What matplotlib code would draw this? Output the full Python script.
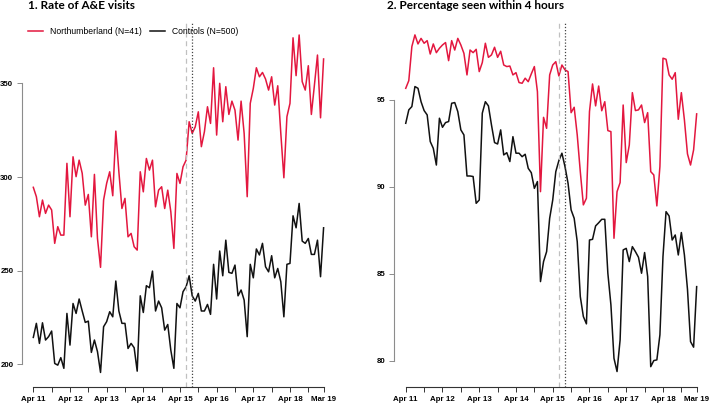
import numpy as np
import matplotlib
matplotlib.use('Agg')
import matplotlib.pyplot as plt

# monthly series, Apr 2011 .. Mar 2019 (96 months)
tick_pos = [0, 12, 24, 36, 48, 60, 72, 84, 95]
tick_labels = ['Apr 11', 'Apr 12', 'Apr 13', 'Apr 14', 'Apr 15', 'Apr 16', 'Apr 17', 'Apr 18', 'Mar 19']
minor_pos = [6, 18, 30, 42, 54, 66, 78, 90]
vline_dashed = 50
vline_dotted = 52

ae_north = [294.5, 289.5, 278.8, 287.7, 280.6, 285.0, 282.4, 264.6, 273.5, 269.0, 269.0, 307.3,
            278.8, 310.8, 300.2, 309.0, 302.0, 285.0, 290.7, 268.1, 301.4, 267.2, 251.8, 287.7,
            296.6, 302.8, 290.0, 324.5, 302.8, 283.2, 288.6, 268.1, 269.9, 262.8, 261.0, 302.8,
            292.1, 309.9, 303.7, 309.0, 284.1, 293.0, 294.8, 283.2, 293.0, 281.5, 261.9, 301.9,
            296.6, 305.5, 309.0, 329.5, 323.3, 326.8, 334.8, 316.2, 324.2, 337.5, 328.6, 358.3,
            322.4, 350.0, 329.5, 348.2, 333.4, 340.5, 335.7, 319.7, 340.5, 323.3, 289.5, 339.3,
            347.3, 358.3, 353.5, 355.8, 352.3, 346.4, 353.5, 338.4, 348.7, 323.3, 299.6, 332.2,
            339.3, 374.3, 354.1, 375.8, 350.9, 346.4, 359.4, 333.4, 349.1, 365.1, 331.6, 363.0]

ae_controls = [214.4, 221.9, 211.2, 222.2, 213.0, 214.8, 217.8, 200.5, 199.6, 203.6, 197.9, 227.2,
               210.3, 232.5, 227.2, 234.9, 228.5, 222.4, 223.1, 206.4, 213.0, 206.8, 195.7, 220.1,
               222.8, 228.1, 225.4, 244.5, 228.5, 221.9, 221.9, 208.5, 211.2, 208.9, 196.4, 236.6,
               227.7, 242.0, 240.9, 249.8, 228.5, 233.8, 230.2, 218.3, 221.3, 207.6, 197.9, 232.5,
               230.2, 238.8, 241.4, 247.3, 236.6, 233.8, 237.9, 228.5, 228.5, 232.0, 226.7, 253.4,
               234.9, 260.5, 247.3, 266.3, 249.1, 248.6, 253.0, 236.6, 239.7, 234.3, 214.8, 253.4,
               246.2, 261.6, 258.4, 264.6, 252.1, 249.4, 258.0, 246.2, 251.2, 244.1, 225.4, 253.4,
               253.9, 279.3, 272.9, 285.9, 265.8, 264.6, 267.2, 258.7, 258.7, 266.3, 246.8, 272.9]

seen4h_north = [95.67, 96.11, 98.07, 98.74, 98.22, 98.54, 98.26, 98.41, 97.64, 98.22, 97.72, 97.97,
                98.16, 98.30, 97.26, 98.41, 97.87, 98.54, 98.16, 97.68, 96.44, 97.87, 97.72, 97.91,
                96.63, 97.15, 98.26, 97.45, 97.59, 98.03, 97.45, 97.80, 97.01, 96.92, 96.95, 96.44,
                96.57, 96.00, 95.96, 96.25, 96.05, 96.50, 96.92, 95.48, 89.73, 94.00, 93.37, 96.44,
                97.01, 97.20, 96.38, 97.01, 96.73, 96.63, 94.27, 94.58, 92.99, 90.88, 88.97, 89.35,
                94.33, 95.92, 94.66, 95.80, 94.38, 94.90, 93.24, 93.18, 87.05, 89.73, 90.25, 94.71,
                91.40, 92.41, 95.42, 94.39, 94.43, 94.71, 93.70, 94.27, 90.88, 90.69, 88.91, 91.17,
                97.40, 97.34, 96.44, 96.19, 96.57, 93.89, 95.42, 93.85, 91.90, 91.26, 92.13, 94.20]

seen4h_controls = [93.66, 94.43, 94.62, 95.77, 95.67, 94.90, 94.39, 94.14, 92.61, 92.22, 91.26, 93.95,
                   93.43, 93.70, 93.76, 94.81, 94.85, 94.33, 93.28, 92.99, 90.63, 90.63, 90.60, 89.06,
                   89.25, 94.24, 94.90, 94.66, 93.56, 92.55, 92.47, 93.28, 91.84, 91.97, 91.46, 92.89,
                   91.94, 91.94, 91.74, 91.88, 91.07, 90.82, 89.92, 90.31, 84.56, 85.71, 86.28, 88.20,
                   89.25, 90.88, 91.51, 91.94, 91.17, 90.21, 88.68, 88.20, 86.86, 83.70, 82.55, 82.13,
                   86.95, 86.99, 87.76, 87.94, 88.14, 88.14, 85.04, 83.22, 80.15, 79.39, 81.21, 86.38,
                   86.47, 85.71, 86.57, 86.28, 85.96, 85.04, 86.23, 84.85, 79.67, 80.02, 80.06, 81.50,
                   86.00, 88.58, 88.33, 86.95, 87.24, 86.09, 87.38, 86.09, 84.12, 81.11, 80.79, 84.27]

months = np.arange(len(ae_north))
RED = '#E3173F'

plt.rcParams['font.family'] = ['Liberation Sans', 'DejaVu Sans']

fig = plt.figure(figsize=(7.09, 4.04), dpi=100)
W, H = 709.0, 404.0
ax1 = fig.add_axes([21.7 / W, 17.5 / H, 313.5 / W, 365 / H])
ax2 = fig.add_axes([394.1 / W, 17.5 / H, 314.2 / W, 365 / H])


def style_axis(ax, yticks, ylim):
    ax.set_xlim(-3.8, 98.8)
    ax.set_ylim(*ylim)
    for s in ['top', 'right']:
        ax.spines[s].set_visible(False)
    ax.spines['left'].set_bounds(yticks[0], yticks[-1])
    ax.spines['left'].set_color('#8c8c8c')
    ax.spines['bottom'].set_bounds(0, 95)
    ax.spines['bottom'].set_color('#333333')
    ax.spines['left'].set_linewidth(0.8)
    ax.spines['bottom'].set_linewidth(0.8)
    ax.set_yticks(yticks)
    ax.set_yticklabels([str(v) for v in yticks], fontsize=5.7, fontweight='bold')
    ax.set_xticks(tick_pos)
    ax.set_xticklabels(tick_labels, fontsize=5.7, fontweight='bold')
    ax.set_xticks(minor_pos, minor=True)
    ax.tick_params(axis='x', which='both', length=3.3, width=0.7, color='#333333', pad=3.5)
    ax.tick_params(axis='y', length=3.5, width=0.7, color='#8c8c8c', pad=2.5)
    ax.axvline(vline_dashed, color='#c0c0c0', lw=0.9, ls=(0, (4, 3)))
    ax.axvline(vline_dotted, color='#444444', lw=0.9, ls=(0, (1, 1.5)))


ax1.plot(months, ae_north, color=RED, lw=1.1, label='Northumberland (N=41)')
ax1.plot(months, ae_controls, color='#111111', lw=1.1, label='Controls (N=500)')
style_axis(ax1, [200, 250, 300, 350], (188.2, 383.0))

ax2.plot(months, seen4h_north, color=RED, lw=1.1)
ax2.plot(months, seen4h_controls, color='#111111', lw=1.1)
style_axis(ax2, [80, 85, 90, 95], (78.53, 99.51))

ax1.legend(loc='upper left', bbox_to_anchor=(0.02, 0.985), ncol=2, frameon=False,
           fontsize=6.2, handlelength=1.75, handletextpad=0.8, columnspacing=0.95,
           borderpad=0, borderaxespad=0)

fig.text(28 / W, 1 - 5.5 / H, '1. Rate of A&E visits', family='Lato', fontweight='bold',
         fontsize=8.5, va='center', ha='left')
fig.text(387.3 / W, 1 - 5.5 / H, '2. Percentage seen within 4 hours', family='Lato',
         fontweight='bold', fontsize=8.5, va='center', ha='left')

fig.savefig('out.png', dpi=100)
